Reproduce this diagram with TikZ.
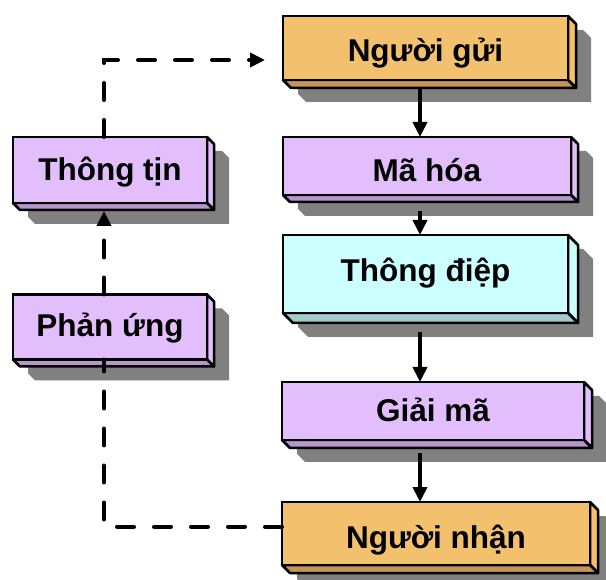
\documentclass[tikz,border=0pt]{standalone}
\usepackage{fontspec}
\setmainfont{Liberation Sans}
\usetikzlibrary{arrows.meta}
\usetikzlibrary{calc}
\usetikzlibrary{backgrounds}

\definecolor{sender}{HTML}{F3C16E}
\definecolor{senderD}{HTML}{C49655}
\definecolor{code}{HTML}{E2BEFC}
\definecolor{codeD}{HTML}{B796CD}
\definecolor{msg}{HTML}{CCFFFF}
\definecolor{msgD}{HTML}{A0CCCC}
\definecolor{castgray}{HTML}{808080}

\begin{document}
\begin{tikzpicture}[x=1pt, y=-1pt,
  box/.style={draw, line width=2.5pt, outer sep=0pt, text height=26pt, text depth=0pt,
    font=\bfseries\fontsize{31.5}{36}\selectfont},
  flow/.style={line width=4.5pt, -{Triangle[width=14pt,length=15pt]}},
  feedback/.style={line width=4pt, line cap=round, dash pattern=on 17pt off 20pt}]
\useasboundingbox (0,0) rectangle (606,580);

% main chain
\node[box, fill=sender, minimum width=285pt, minimum height=64pt, text height=27pt] (ng) at (425.5,48) {Người gửi};
\node[box, fill=code, minimum width=288pt, minimum height=58pt, text height=31pt] (mh) at (427,166) {Mã hóa};
\node[box, fill=msg, minimum width=285pt, minimum height=78pt, text height=16pt] (td) at (425.5,274) {Thông điệp};
\node[box, fill=code, minimum width=302pt, minimum height=58pt, text height=20pt] (gm) at (433,411) {Giải mã};
\node[box, fill=sender, minimum width=308pt, minimum height=63pt, text height=29pt] (nn) at (436,533.5) {Người nhận};
% feedback side
\node[box, fill=code, minimum width=194pt, minimum height=66pt, text height=22pt] (tt) at (110,170) {Thông tịn};
\node[box, fill=code, minimum width=194pt, minimum height=65pt, text height=19pt] (pu) at (110,327) {Phản ứng};

% shadows and depth
\begin{scope}[on background layer]
\foreach \n/\d/\side/\base in {ng/8/sender/senderD, mh/7/code/codeD, td/10/msg/msgD,
    gm/8/code/codeD, nn/8/sender/senderD, tt/7/code/codeD, pu/7/code/codeD} {
  \fill[castgray] ($(\n.north west)+(15,14)$) -- ($(\n.north east)+(15,14)$)
    -- ($(\n.north east)+(15+\d,14+\d)$) -- ($(\n.south east)+(15+\d,14+\d)$)
    -- ($(\n.south west)+(15+\d,14+\d)$) -- ($(\n.south west)+(15,14)$) -- cycle;
  \filldraw[fill=\side, line width=2.5pt, line join=round]
    (\n.north east) -- ++(\d,\d) -- ($(\n.south east)+(\d,\d)$) -- (\n.south east) -- cycle;
  \filldraw[fill=\base, line width=2.5pt, line join=round]
    (\n.south west) -- ++(\d,\d) -- ($(\n.south east)+(\d,\d)$) -- (\n.south east) -- cycle;
}
\end{scope}

\coordinate (spine) at (420,0);
\coordinate (loop) at (104,0);

\draw[flow] ($(ng.south -| spine)+(0,8)$) -- (mh.north -| spine);
\draw[flow] ($(mh.south -| spine)+(0,16)$) -- (td.north -| spine);
\draw[flow] ($(td.south -| spine)+(0,19)$) -- (gm.north -| spine);
\draw[flow] ($(gm.south -| spine)+(0,13)$) -- (nn.north -| spine);

\draw[feedback, -{Triangle[width=14pt,length=15pt]}]
  (tt.north -| loop) |- ($(ng.west)+(-18,12)$);
\draw[feedback] ($(nn.west)+(0,-7)$) -| (pu.south -| loop);
\draw[feedback, -{Triangle[width=14pt,length=15pt]}]
  (pu.north -| loop) -- ($(tt.south -| loop)+(0,8)$);
\end{tikzpicture}
\end{document}
